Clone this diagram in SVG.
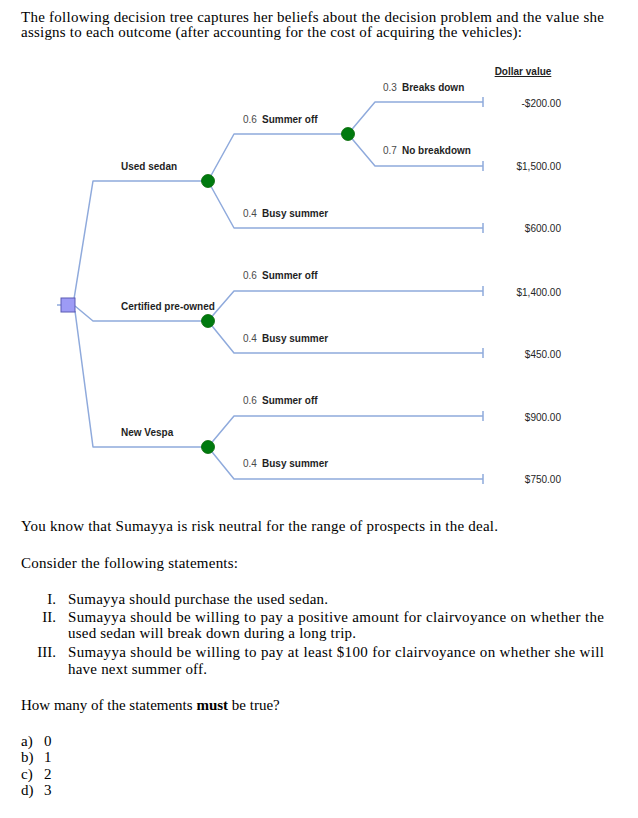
<svg xmlns="http://www.w3.org/2000/svg" width="638" height="818" viewBox="0 0 638 818">
<style>
.body{font-family:"Liberation Serif","Times New Roman",serif;font-size:15px;fill:#000}
.lbl{font-family:"Liberation Sans",Arial,sans-serif;font-size:10px;font-weight:bold;fill:#1f1f1f}
.prob{font-family:"Liberation Sans",Arial,sans-serif;font-size:10px;font-weight:normal;fill:#4a4a4a}
.val{font-family:"Liberation Sans",Arial,sans-serif;font-size:10px;fill:#262626;text-anchor:end}
.edge{fill:none;stroke:#8FAADC;stroke-width:1.5;stroke-linejoin:round}
.chance{fill:#007A0F;stroke:#006400;stroke-width:0.8}
.decision{fill:#9D9BF5;stroke:#5A5AB4;stroke-width:1}
</style>
<rect width="638" height="818" fill="#fff"/>
<g id="intro">
<text class="body" x="21" y="22" textLength="583">The following decision tree captures her beliefs about the decision problem and the value she</text>
<text class="body" x="21" y="37" textLength="501">assigns to each outcome (after accounting for the cost of acquiring the vehicles):</text>
</g>
<g id="connectors">
<path class="edge" d="M57,305 H61"/>
<path class="edge" d="M74,299 L93,181 H208"/>
<path class="edge" d="M75,306 L93,321 H208"/>
<path class="edge" d="M75,311 L93,447 H208"/>
<path class="edge" d="M208,181 L234,134 H348"/>
<path class="edge" d="M208,181 L234,228 H483"/>
<path class="edge" d="M348,134 L375,102 H483"/>
<path class="edge" d="M348,134 L375,166 H483"/>
<path class="edge" d="M208,321 L234,291 H483"/>
<path class="edge" d="M208,321 L234,353 H483"/>
<path class="edge" d="M208,447 L234,416 H483"/>
<path class="edge" d="M208,447 L234,479 H483"/>
<path class="edge" d="M483,97 V107 M483,161 V171 M483,223 V233 M483,286 V296 M483,348 V358 M483,411 V421 M483,474 V484"/>
</g>
<g id="decision-node"><rect class="decision" x="61" y="298" width="14" height="14"/></g>
<g id="chance-used-sedan"><circle class="chance" cx="208" cy="181" r="6.5"/></g>
<g id="chance-breakdown"><circle class="chance" cx="348" cy="134" r="6.5"/></g>
<g id="chance-certified"><circle class="chance" cx="208" cy="321" r="6.5"/></g>
<g id="chance-vespa"><circle class="chance" cx="208" cy="447" r="6.5"/></g>
<g id="labels">
<text class="lbl" x="121" y="170">Used sedan</text>
<text class="lbl" x="121" y="310">Certified pre-owned</text>
<text class="lbl" x="121" y="436">New Vespa</text>
<text x="243" y="123"><tspan class="prob">0.6</tspan><tspan class="lbl" x="262">Summer off</tspan></text>
<text x="243" y="217"><tspan class="prob">0.4</tspan><tspan class="lbl" x="262">Busy summer</tspan></text>
<text x="383" y="91"><tspan class="prob">0.3</tspan><tspan class="lbl" x="402">Breaks down</tspan></text>
<text x="383" y="154"><tspan class="prob">0.7</tspan><tspan class="lbl" x="402">No breakdown</tspan></text>
<text x="243" y="279"><tspan class="prob">0.6</tspan><tspan class="lbl" x="262">Summer off</tspan></text>
<text x="243" y="342"><tspan class="prob">0.4</tspan><tspan class="lbl" x="262">Busy summer</tspan></text>
<text x="243" y="404"><tspan class="prob">0.6</tspan><tspan class="lbl" x="262">Summer off</tspan></text>
<text x="243" y="467"><tspan class="prob">0.4</tspan><tspan class="lbl" x="262">Busy summer</tspan></text>
</g>
<g id="values">
<text class="lbl" x="523" y="75" text-anchor="middle" text-decoration="underline">Dollar value</text>
<text class="val" x="561" y="107">-$200.00</text>
<text class="val" x="561" y="170">$1,500.00</text>
<text class="val" x="561" y="232">$600.00</text>
<text class="val" x="561" y="296">$1,400.00</text>
<text class="val" x="561" y="358">$450.00</text>
<text class="val" x="561" y="421">$900.00</text>
<text class="val" x="561" y="483">$750.00</text>
</g>
<g id="question">
<text class="body" x="21" y="531" textLength="477">You know that Sumayya is risk neutral for the range of prospects in the deal.</text>
<text class="body" x="21" y="568" textLength="217">Consider the following statements:</text>
<text class="body" x="56" y="604" text-anchor="end">I.</text>
<text class="body" x="68" y="604" textLength="260">Sumayya should purchase the used sedan.</text>
<text class="body" x="56" y="622" text-anchor="end">II.</text>
<text class="body" x="68" y="622" textLength="536">Sumayya should be willing to pay a positive amount for clairvoyance on whether the</text>
<text class="body" x="68" y="638" textLength="288">used sedan will break down during a long trip.</text>
<text class="body" x="56" y="657" text-anchor="end">III.</text>
<text class="body" x="68" y="657" textLength="536">Sumayya should be willing to pay at least $100 for clairvoyance on whether she will</text>
<text class="body" x="68" y="674" textLength="139">have next summer off.</text>
<text class="body" x="21" y="710">How many of the statements <tspan font-weight="bold">must</tspan> be true?</text>
<text class="body" x="21" y="746">a)</text><text class="body" x="44" y="746">0</text>
<text class="body" x="21" y="762">b)</text><text class="body" x="44" y="762">1</text>
<text class="body" x="21" y="779">c)</text><text class="body" x="44" y="779">2</text>
<text class="body" x="21" y="795">d)</text><text class="body" x="44" y="795">3</text>
</g>
</svg>
